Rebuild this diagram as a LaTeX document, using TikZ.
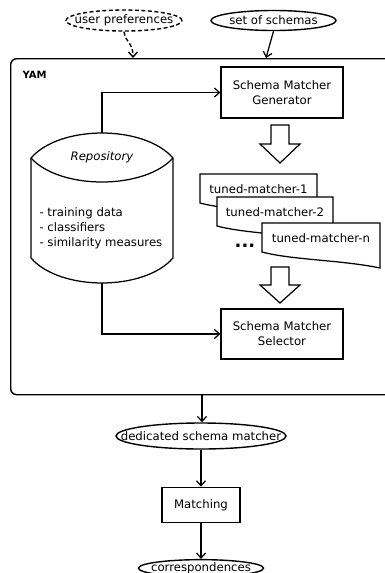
\documentclass[tikz,border=0pt]{standalone}
\usepackage{fontspec}
\setmainfont{DejaVu Sans}
\usetikzlibrary{shapes.geometric}
\usetikzlibrary{arrows.meta}
\usetikzlibrary{positioning}

% document shape with a wavy bottom: name, left, top, width, text
\newcommand{\tuneddoc}[5]{%
  \begin{scope}[shift={(#2,#3)}]
    \filldraw[docline] (0,0) -- (#4,0) -- (#4,45)
      .. controls (#4-38,37) and (30,37) .. (0,29) -- cycle;
    \node[doctext] (#1) at (#4/2,15.5) {#5};
  \end{scope}}
% hollow arrow pointing down: centre x, top y, length
\newcommand{\hollowdown}[3]{%
  \draw[line] (#1-9,#2) -- (#1+9,#2) -- (#1+9,#2+#3/2) -- (#1+20,#2+#3/2)
    -- (#1,#2+#3) -- (#1-20,#2+#3/2) -- (#1-9,#2+#3/2) -- cycle;}

\begin{document}
\begin{tikzpicture}[x=1pt,y=-1pt]
    \tikzset{
      >={Straight Barb[length=5pt,width=9pt]},
      every node/.style={font=\fontsize{11.7}{15}\selectfont},
      line/.style={line width=1.25pt},
      io/.style={ellipse, draw, line width=1.4pt, inner sep=0pt,
        execute at begin node={\hbox to 0pt\bgroup\hss},
        execute at end node={\hss\egroup}},
      proc/.style={rectangle, draw, line width=1.25pt, align=center, inner sep=0pt},
      container/.style={rectangle, draw, rounded corners=6pt, line width=1.4pt},
      docline/.style={line width=1.25pt, fill=white},
      doctext/.style={inner sep=0pt},
      dashline/.style={line width=1.4pt, dash pattern=on 4pt off 2.5pt},
    }
    \useasboundingbox (0,0) rectangle (385,573);
    \clip (0,0) rectangle (385,573);

    % inputs
    \node[io, dashline, minimum width=116pt, minimum height=21pt] (prefs) at (124,20.5) {user preferences};
    \node[io, minimum width=125pt, minimum height=20pt] (schemas) at (273.5,20.5) {set of schemas};

    % YAM
    \node[container, minimum width=390pt, minimum height=336pt, anchor=north west] (yam) at (10,58) {};
    \node[font=\bfseries\fontsize{10}{12}\selectfont, anchor=west] (yamlabel) at (19,75) {YAM};
    \coordinate (prefsin) at (133,58);
    \coordinate (schemasin) at (266,58);
    \draw[dashline, ->] (prefs.south) .. controls (126,44) and (133,42) .. (prefsin);
    \draw[line, ->] (schemas.south) -- (schemasin);

    \node[proc, minimum width=122pt, minimum height=51pt] (gen) at (282,92.5) {Schema Matcher\\Generator};
    \node[proc, minimum width=122pt, minimum height=50pt] (sel) at (282,334) {Schema Matcher\\Selector};

    % repository
    \draw[line] (31,158) .. controls (60,124.7) and (144,124.7) .. (173,158)
      -- (173,258) .. controls (144,291.3) and (60,291.3) .. (31,258) -- cycle;
    \draw[line] (31,158) .. controls (60,190) and (144,190) .. (173,158);
    \coordinate (repotop) at (102,133);
    \coordinate (repobot) at (102,283);
    \node (repo) at (102,157) {\itshape Repository};
    \node[anchor=west, align=left] (repolist) at (36,228) {- training data\\- classifiers\\- similarity measures};
    \draw[line, ->] (repotop) |- (gen);
    \draw[line, ->] (repobot) |- (sel);

    % tuned matchers
    \hollowdown{280}{125}{38}
    \tuneddoc{tm1}{200}{174}{117}{tuned-matcher-1}
    \tuneddoc{tm2}{217}{197}{116}{tuned-matcher-2}
    \node[font=\bfseries\fontsize{18}{18}\selectfont] (dots) at (245,246) {...};
    \tuneddoc{tmn}{262}{223}{118}{tuned-matcher-n}
    \hollowdown{280}{267}{36}

    % output
    \coordinate (yamout) at (202,394);
    \node[io, minimum width=170pt, minimum height=26pt] (ded) at (201,436) {dedicated schema matcher};
    \node[proc, minimum width=78pt, minimum height=35pt, below=37pt of ded] (match) {Matching};
    \node[io, minimum width=125pt, minimum height=17pt, below=36pt of match] (corr) {correspondences};
    \draw[line, ->] (yamout) -- (yamout |- ded.north);
    \draw[line, ->] (ded) -- (match);
    \draw[line, ->] (match) -- (corr);
\end{tikzpicture}
\end{document}
